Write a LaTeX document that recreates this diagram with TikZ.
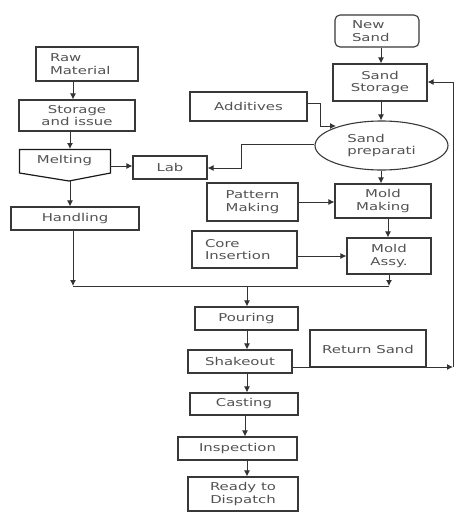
\documentclass[tikz,border=0pt]{standalone}
\usepackage{fontspec}
\setmainfont{DejaVu Sans}[FakeStretch=1.38]
\usetikzlibrary{arrows.meta,shapes.geometric,calc}
\begin{document}
\begin{tikzpicture}[x=1pt,y=-1pt,
  base/.style={draw=black!78, line width=1.1pt, inner sep=0pt, text=black!68,
    font=\fontsize{10.8}{12.5}\selectfont},
  box/.style={base, rectangle},
  lbox/.style={base, rectangle, align=left},
  conn/.style={draw=black!80, line width=1pt},
  arr/.style={conn, -{Latex[length=6pt,width=6pt]}}]
\useasboundingbox (0,0) rectangle (474,520);
% left column
\node[lbox, minimum width=102, minimum height=34, text width=74] (raw) at (87,64) {Raw\\Material};
\node[box, minimum width=116, minimum height=31, align=center] (stor) at (77,115.5) {Storage\\and issue};
\node[base, draw=none, minimum width=90, minimum height=22] (melt) at (64.5,161) {Melting};
\draw[draw=black!90, line width=1.2pt] (19.5,149.5) -- (110.5,149.5) -- (110.5,173) -- (69,181) -- (19.5,173) -- cycle;
\coordinate (meltb) at (69,181);
\node[box, minimum width=74, minimum height=23] (lab) at (170,167.5) {Lab};
\node[box, minimum width=128, minimum height=23] (hand) at (75,218.5) {Handling};
% right column
\node[lbox, rounded corners=5pt, minimum width=84, minimum height=32, text width=50] (new) at (377,31) {New\\Sand};
\node[box, minimum width=94, minimum height=37, align=center] (sstor) at (380,82.5) {Sand\\Storage};
\node[box, minimum width=117, minimum height=29] (add) at (248.5,106.5) {Additives};
\node[base, ellipse, minimum width=133, minimum height=49, align=left] (prep) at (381.5,145.5) {Sand\\preparati};
\node[box, minimum width=91, minimum height=38, align=center] (patt) at (252.5,202) {Pattern\\Making};
\node[box, minimum width=96, minimum height=34, align=center] (mmak) at (383,201) {Mold\\Making};
\node[lbox, minimum width=105, minimum height=37, text width=79] (core) at (244.5,249.5) {Core\\Insertion};
\node[box, minimum width=84, minimum height=36, align=center] (assy) at (389,256) {Mold\\Assy.};
% bottom column
\node[box, minimum width=103, minimum height=23] (pour) at (246.5,318.5) {Pouring};
\node[box, minimum width=104, minimum height=23] (shake) at (240,361.5) {Shakeout};
\node[box, minimum width=116, minimum height=37, anchor=north, inner ysep=5pt] (ret) at (368,330) {Return Sand};
\draw[draw=black!78, line width=1.1pt] (310,330) rectangle (426,367);
\node[box, minimum width=108, minimum height=22] (cast) at (244,404) {Casting};
\node[box, minimum width=119, minimum height=23] (insp) at (237.5,448.5) {Inspection};
\node[box, minimum width=110, minimum height=34, align=center] (ready) at (243,494) {Ready to\\Dispatch};
% helper coordinates
\coordinate (xa) at (73,0);
\coordinate (xb) at (70,0);
\coordinate (xc) at (381,0);
\coordinate (xd) at (388,0);
\coordinate (xe) at (247,0);
\coordinate (xf) at (245,0);
\coordinate (jl) at (73,286);
\coordinate (jr) at (389,286);
\coordinate (jm) at (247,286);
\coordinate (a1) at (320,103);
\coordinate (a2) at (320,126);
\coordinate (a3) at (336,126);
\coordinate (p1) at (241,144);
\coordinate (p2) at (241,168);
\coordinate (s1) at (292,367);
\coordinate (s2) at (453,367);
\coordinate (s3) at (453,82);
% connectors
\draw[arr] (raw.south -| xa) -- (stor.north -| xa);
\draw[arr] (stor.south -| xb) -- (19,149 -| xb);
\draw[arr] (110,166) -- (lab.west |- 0,166);
\draw[arr] (meltb -| xb) -- (hand.north -| xb);
\draw[arr] (hand.south -| xa) -- (jl);
\draw[arr] (assy.south -| jr) -- (jr);
\draw[conn] (jl) -- (jr);
\draw[arr] (jm) -- (pour.north -| jm);
\draw[arr] (new.south -| xc) -- (sstor.north -| xc);
\draw[arr] (sstor.south -| xc) -- (prep.north -| xc);
\draw[arr] (add.east |- a1) -- (a1) -- (a2) -- (a3);
\draw[arr] (prep.west |- p1) -- (p1) -- (p2) -- (lab.east |- p2);
\draw[arr] (prep.south -| xc) -- (mmak.north -| xc);
\draw[arr] (patt.east |- 0,202) -- (mmak.west |- 0,202);
\draw[arr] (mmak.south -| xd) -- (assy.north -| xd);
\draw[arr] (core.east |- 0,256) -- (assy.west |- 0,256);
\draw[arr] (pour.south -| xe) -- (shake.north -| xe);
\draw[arr] (shake.south -| xe) -- (cast.north -| xe);
\draw[arr] (cast.south -| xf) -- (insp.north -| xf);
\draw[arr] (insp.south -| xe) -- (ready.north -| xe);
\draw[arr] (s1) -- (s2);
\draw[arr] (s2) -- (s3) -- (sstor.east |- s3);
\end{tikzpicture}
\end{document}
